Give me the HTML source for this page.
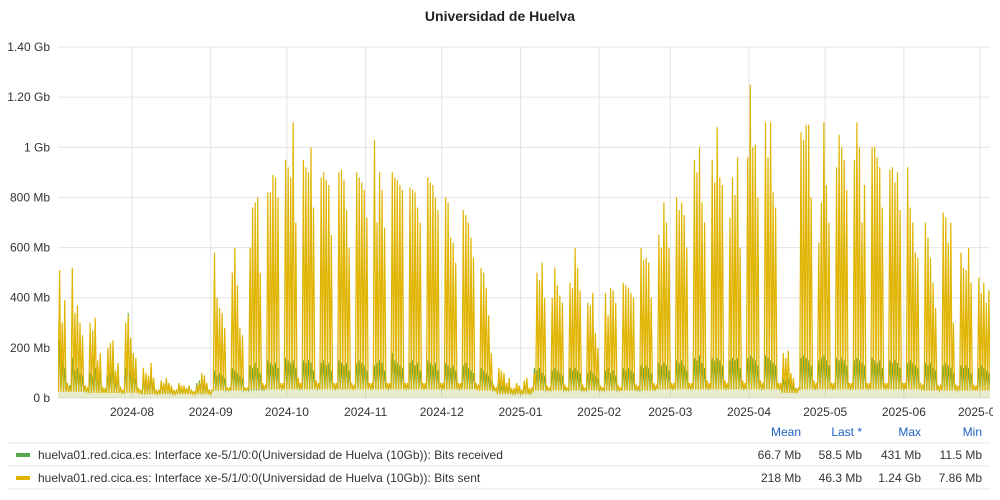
<!DOCTYPE html>
<html><head><meta charset="utf-8"><style>
body{margin:0;background:#fff;font-family:"Liberation Sans",sans-serif;}
#wrap{position:relative;width:1000px;height:500px;overflow:hidden;}
</style></head><body>
<div id="wrap">
<svg id="chart" width="1000" height="500" xmlns="http://www.w3.org/2000/svg">
<defs><clipPath id="lblclip"><rect x="0" y="0" width="993" height="500"/></clipPath></defs>
<text x="500" y="21" text-anchor="middle" font-size="14" font-weight="bold" fill="#222">Universidad de Huelva</text>
<g id="grid"></g><g id="series"></g><g id="axes" clip-path="url(#lblclip)"></g>
<g font-size="12" fill="#333">
<text x="801" y="436" text-anchor="end" fill="#1f60c4">Mean</text>
<text x="862" y="436" text-anchor="end" fill="#1f60c4">Last *</text>
<text x="921" y="436" text-anchor="end" fill="#1f60c4">Max</text>
<text x="982" y="436" text-anchor="end" fill="#1f60c4">Min</text>
<line x1="8" y1="443" x2="990" y2="443" stroke="#e6e6e6"/>
<g>
<rect x="16" y="453" width="14" height="4" fill="#56a64b"/>
<text x="38" y="459">huelva01.red.cica.es: Interface xe-5/1/0:0(Universidad de Huelva (10Gb)): Bits received</text>
<text x="801" y="459" text-anchor="end">66.7 Mb</text><text x="862" y="459" text-anchor="end">58.5 Mb</text>
<text x="921" y="459" text-anchor="end">431 Mb</text><text x="982" y="459" text-anchor="end">11.5 Mb</text>
</g>
<line x1="8" y1="466" x2="990" y2="466" stroke="#e6e6e6"/>
<g>
<rect x="16" y="476" width="14" height="4" fill="#e0b400"/>
<text x="38" y="482">huelva01.red.cica.es: Interface xe-5/1/0:0(Universidad de Huelva (10Gb)): Bits sent</text>
<text x="801" y="482" text-anchor="end">218 Mb</text><text x="862" y="482" text-anchor="end">46.3 Mb</text>
<text x="921" y="482" text-anchor="end">1.24 Gb</text><text x="982" y="482" text-anchor="end">7.86 Mb</text>
</g>
<line x1="8" y1="489" x2="990" y2="489" stroke="#e6e6e6"/>
</g>
</svg>
</div>
<script>
const yTicks=[0,200,400,600,800,1000,1200,1400];
const yTickLabels=["0 b","200 Mb","400 Mb","600 Mb","800 Mb","1 Gb","1.20 Gb","1.40 Gb"];
const monthDays=[31,62,92,123,153,184,215,243,274,304,335,365];
const monthLabels=["2024-08","2024-09","2024-10","2024-11","2024-12","2025-01","2025-02","2025-03","2025-04","2025-05","2025-06","2025-07"];
const sentPeaks=[
350,420,510,300,390,60,40, 520,340,370,300,250,50,40, 300,270,320,150,180,40,40, 200,220,230,110,140,40,30,
300,330,240,180,160,40,30, 120,100,90,140,80,30,30, 70,60,80,60,50,30,30, 60,50,50,40,50,30,25,
50,60,100,90,60,30,30, 580,400,360,340,280,40,40, 500,600,450,280,250,40,40, 600,760,780,800,500,60,50,
820,820,890,880,800,60,60, 950,920,880,1100,700,80,60, 950,920,900,1000,760,70,60, 880,900,870,850,650,60,60,
900,910,870,750,600,60,50, 900,880,860,830,720,60,60, 1030,700,900,830,680,60,60, 900,880,870,850,830,60,60,
840,830,820,760,700,60,60, 880,860,850,800,750,60,60, 800,780,640,620,540,60,60, 750,730,700,640,560,60,50,
520,500,440,330,180,50,40, 120,110,100,60,80,40,40, 60,50,30,70,80,40,40, 100,500,470,540,400,50,40,
400,520,450,410,380,50,40, 460,440,600,520,430,50,40, 380,370,420,260,200,50,40, 420,330,440,430,380,50,40,
460,450,440,420,400,50,50, 600,550,560,540,400,60,50, 650,600,780,700,600,60,60, 800,750,780,730,600,60,60,
950,900,1000,780,700,70,60, 950,860,1080,880,850,70,60, 720,880,810,960,600,70,60, 960,1250,1000,1010,800,70,60,
1100,960,1100,820,760,60,60, 180,160,190,100,80,40,40, 1060,1030,1090,1090,800,70,60, 620,780,1100,850,700,60,60,
920,1050,1000,950,830,60,60, 950,1100,1000,700,850,60,60, 1000,1000,960,920,760,60,60, 910,920,860,900,750,60,60,
920,760,700,580,560,60,50, 700,640,560,460,360,50,50, 740,720,620,700,300,50,50, 580,520,510,600,460,50,50,
480,420,460,380,430,50];
const recvPeaks=[
140,200,230,150,120,60,50, 160,110,120,100,90,50,40, 100,90,120,80,100,40,40, 90,100,130,70,90,40,30,
120,340,110,100,80,40,30, 80,70,60,90,50,30,30, 60,50,70,50,40,30,30, 50,40,40,40,50,30,25,
60,70,80,60,50,30,30, 110,90,100,90,80,40,40, 120,110,100,90,80,40,40, 130,120,140,120,100,50,50,
150,140,130,140,120,60,50, 160,150,140,150,120,60,50, 150,140,150,140,110,60,50, 140,150,130,140,110,60,50,
150,140,130,140,110,60,50, 140,150,140,130,110,60,50, 130,140,150,140,110,60,50, 180,150,140,130,120,60,50,
140,150,130,140,110,60,50, 150,140,130,140,110,60,50, 140,130,120,130,110,60,50, 130,140,120,110,100,50,50,
120,110,100,90,70,40,40, 60,50,50,40,50,30,30, 40,40,30,50,60,30,30, 120,110,120,100,90,40,40,
110,120,110,100,90,40,40, 120,110,120,110,100,40,40, 100,110,100,90,80,40,40, 110,120,100,110,90,40,40,
120,110,120,110,100,50,40, 130,120,130,120,100,50,50, 140,130,140,130,110,50,50, 150,140,150,130,110,50,50,
160,150,170,140,120,60,50, 160,150,160,150,130,60,50, 150,160,150,160,120,60,50, 160,170,160,150,130,60,50,
170,160,150,140,130,60,50, 80,70,80,60,50,40,40, 160,170,160,150,130,60,50, 150,160,170,150,130,60,50,
160,150,160,150,130,60,50, 150,160,150,140,130,60,50, 160,150,140,150,120,60,50, 150,140,150,140,120,60,50,
140,150,140,130,120,60,50, 140,130,140,120,110,50,50, 130,140,130,120,100,50,50, 130,120,130,120,100,50,50,
120,130,120,110,100,50];
const sentTroughs=[25,25,20,20,20,15,15,15,15,30,30,35,35,35,35,35,35,35,35,35,35,35,35,35,30,15,15,30,30,30,30,30,30,30,35,35,35,35,35,35,35,20,35,35,35,35,35,35,35,30,30,30,30];
const recvTroughs=[25,25,20,20,20,15,15,15,15,30,30,30,35,35,35,35,35,35,35,35,35,35,35,35,30,15,15,30,30,30,30,30,30,30,35,35,35,35,35,35,35,20,35,35,35,35,35,35,35,30,30,30,30];

const NS="http://www.w3.org/2000/svg";
const L=58,R=990,Y0=398,Y1=47,VMAX=1400;
const X0=53.3,PX=2.539;
const xs=d=>X0+d*PX;
const ys=v=>Y0-(v/VMAX)*(Y0-Y1);
function mk(tag,attrs,parent){const e=document.createElementNS(NS,tag);for(const k in attrs)e.setAttribute(k,attrs[k]);parent.appendChild(e);return e;}
const grid=document.getElementById('grid'),axes=document.getElementById('axes'),ser=document.getElementById('series');
yTicks.forEach((t,i)=>{
 const l=mk('line',{x1:L,x2:R,y1:ys(t),y2:ys(t),stroke:'#e4e4e4'},grid);
 
 
 const tx=mk('text',{x:50,y:ys(t)+4,'text-anchor':'end','font-size':12,fill:'#333'},axes);
 tx.textContent=yTickLabels[i];
 
 
});
monthDays.forEach((d,i)=>{
 const l=mk('line',{x1:xs(d),x2:xs(d),y1:Y1,y2:Y0,stroke:'#e4e4e4'},grid);
 
 
 const tx=mk('text',{x:xs(d),y:416,'text-anchor':'middle','font-size':12,fill:'#333'},axes);
 tx.textContent=monthLabels[i];
 
 
});
const cp=mk('clipPath',{id:'cp'},ser);
mk('rect',{x:L,y:Y1-10,width:R-L,height:Y0-Y1+10},cp);
function build(peaks,troughs){
 const pts=[];
 peaks.forEach((p,d)=>{
  const tr=troughs[Math.floor(d/7)]||20;
  pts.push([xs(d),ys(tr)]);
  pts.push([xs(d+0.5),ys(p)]);
 });
 pts.push([xs(peaks.length),ys(troughs[troughs.length-1])]);
 return pts;
}
function draw(pts,color,name,w){
 const line='M'+pts.map(p=>p[0].toFixed(1)+','+p[1].toFixed(1)).join('L');
 const area=line+'L'+pts[pts.length-1][0].toFixed(1)+','+Y0+'L'+pts[0][0].toFixed(1)+','+Y0+'Z';
 const a=mk('path',{d:area,fill:color,'fill-opacity':0.12,'clip-path':'url(#cp)'},ser);
 
 
 const l=mk('path',{d:line,fill:'none',stroke:color,'stroke-width':w,'clip-path':'url(#cp)'},ser);
 
 
}
draw(build(recvPeaks,recvTroughs),'#56a64b','bits-received',1);
draw(build(sentPeaks,sentTroughs),'#e0b400','bits-sent',1.2);
</script>
</body></html>
